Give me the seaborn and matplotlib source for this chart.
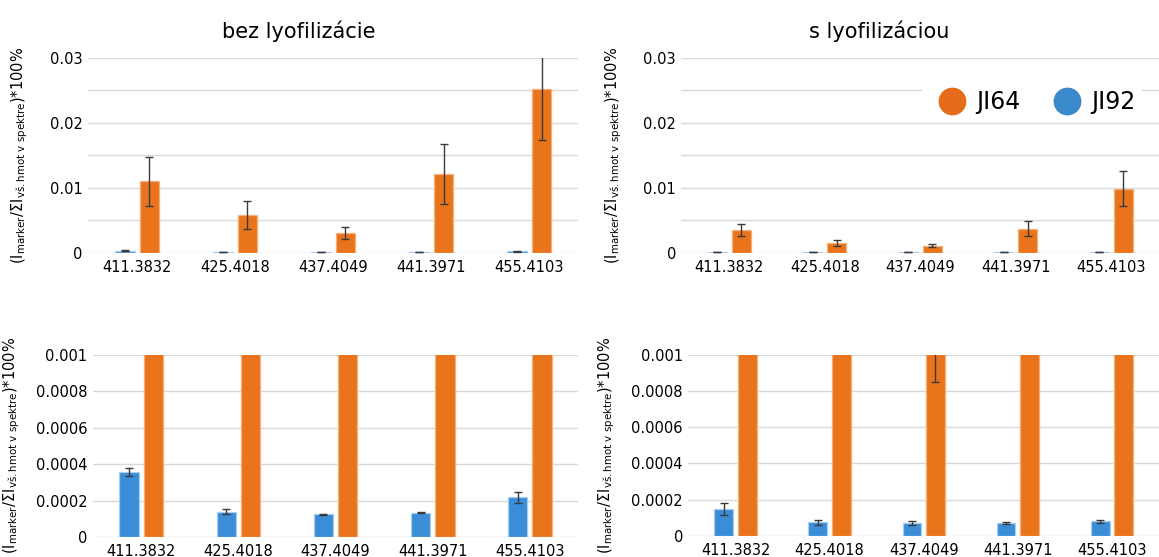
import numpy as np
import pandas as pd
import matplotlib
matplotlib.use("Agg")
import matplotlib.pyplot as plt
from matplotlib.lines import Line2D
import seaborn as sns

# ---------------- data ----------------
categories = ["411.3832", "425.4018", "437.4049", "441.3971", "455.4103"]
samples = ["JI92", "JI64"]

bez_ji64 = [0.0110, 0.00585, 0.0031, 0.0121, 0.0252]
bez_ji64_err = [0.0038, 0.0022, 0.00095, 0.0046, 0.0078]
bez_ji92 = [0.000358, 0.000139, 0.000124, 0.000134, 0.000217]
bez_ji92_err = [0.000023, 0.000012, 0.000003, 0.000002, 0.00003]

s_ji64 = [0.00352, 0.00155, 0.00109, 0.00373, 0.0099]
s_ji64_err = [0.00094, 0.0005, 0.00024, 0.0011, 0.00275]
s_ji92 = [0.00015, 0.000075, 0.00007, 0.00007, 0.00008]
s_ji92_err = [0.000033, 0.000014, 0.00001, 0.000006, 0.000008]

titles = ["bez lyofilizácie", "s lyofilizáciou"]

top_ticks = [0, 0.01, 0.02, 0.03]
top_ticklabels = ["0", "0.01", "0.02", "0.03"]
top_minor = [0.005, 0.015, 0.025]
bot_ticks = [0, 0.0002, 0.0004, 0.0006, 0.0008, 0.001]
bot_ticklabels = ["0", "0.0002", "0.0004", "0.0006", "0.0008", "0.001"]

ylabel = r"$(\mathrm{I}_{\mathrm{marker}}/\Sigma\mathrm{I}_{\mathrm{vš.hmot\ v\ spektre}})$*100%"

# ---------------- style ----------------
sns.set_theme(style="white")
plt.rcParams["font.family"] = ["DejaVu Sans"]
plt.rcParams["mathtext.fontset"] = "dejavusans"
plt.rcParams["text.color"] = "black"
plt.rcParams["axes.labelcolor"] = "black"
plt.rcParams["xtick.color"] = "black"
plt.rcParams["ytick.color"] = "black"

face = {"JI92": "#3A8DD6", "JI64": "#EA741C"}
edge = {"JI92": "#A9CFF0", "JI64": "#F6B07A"}
grid_c = "#D9D9D9"

fig = plt.figure(figsize=(11.59, 5.57), dpi=100)

positions = {
    (0, 0): [0.076, 0.546, 0.423, 0.350],
    (0, 1): [0.588, 0.546, 0.412, 0.350],
    (1, 0): [0.080, 0.036, 0.419, 0.327],
    (1, 1): [0.594, 0.038, 0.406, 0.325],
}

datasets = [
    (bez_ji92, bez_ji92_err, bez_ji64, bez_ji64_err),
    (s_ji92, s_ji92_err, s_ji64, s_ji64_err),
]

for row in range(2):
    for col in range(2):
        ax = fig.add_axes(positions[(row, col)])
        v92, e92, v64, e64 = datasets[col]
        df = pd.DataFrame({
            "mz": categories * 2,
            "sample": ["JI92"] * len(categories) + ["JI64"] * len(categories),
            "value": list(v92) + list(v64),
        })
        sns.barplot(data=df, x="mz", y="value", hue="sample", order=categories,
                    hue_order=samples, palette=face, saturation=1, width=0.5, gap=0.2,
                    errorbar=None, legend=False, ax=ax, zorder=3)
        errs = {"JI92": e92, "JI64": e64}
        for cont, s in zip(ax.containers, samples):
            xs, ys = [], []
            for bar in cont:
                bar.set_edgecolor(edge[s])
                bar.set_linewidth(0.9)
                xs.append(bar.get_x() + bar.get_width() / 2)
                ys.append(bar.get_height())
            ax.errorbar(xs, ys, yerr=errs[s], fmt="none", ecolor="#3a3a3a",
                        elinewidth=1.0, capsize=3, capthick=1.0, zorder=4)

        if row == 0:
            ax.set_ylim(0, 0.03)
            ax.set_yticks(top_ticks)
            ax.set_yticklabels(top_ticklabels)
            ax.set_yticks(top_minor, minor=True)
            ax.grid(True, which="both", axis="y", color=grid_c, linewidth=1.0, zorder=0)
            ax.set_title(titles[col], fontsize=15, pad=14, color="black",
                         x=0.43 if col == 0 else 0.415)
            lp = 14
        else:
            ax.set_ylim(0, 0.001)
            ax.set_yticks(bot_ticks)
            ax.set_yticklabels(bot_ticklabels)
            ax.grid(True, which="major", axis="y", color=grid_c, linewidth=1.0, zorder=0)
            lp = 10
        ax.set_axisbelow(True)
        ax.set_xlim(-0.5, 4.5)
        ax.set_xlabel("")
        ax.set_ylabel(ylabel, fontsize=10.5, labelpad=lp)
        ax.tick_params(axis="both", which="both", length=0, labelsize=10.5)
        ax.tick_params(axis="y", pad=4)
        ax.tick_params(axis="x", pad=5)
        for sp in ax.spines.values():
            sp.set_visible(False)

        if row == 0 and col == 1:
            handles = [
                Line2D([0], [0], marker="o", linestyle="none", markersize=19,
                       markerfacecolor="#E46C1A", markeredgecolor="#E46C1A", label="JI64"),
                Line2D([0], [0], marker="o", linestyle="none", markersize=19,
                       markerfacecolor="#3A8ACB", markeredgecolor="#3A8ACB", label="JI92"),
            ]
            leg = ax.legend(handles=handles, loc="upper right", ncol=2, fontsize=17,
                            frameon=True, facecolor="white", edgecolor="none",
                            framealpha=1.0, handletextpad=0.0, columnspacing=1.0,
                            borderpad=0.3, bbox_to_anchor=(0.99, 0.93))

fig.savefig("out.png", dpi=100)
